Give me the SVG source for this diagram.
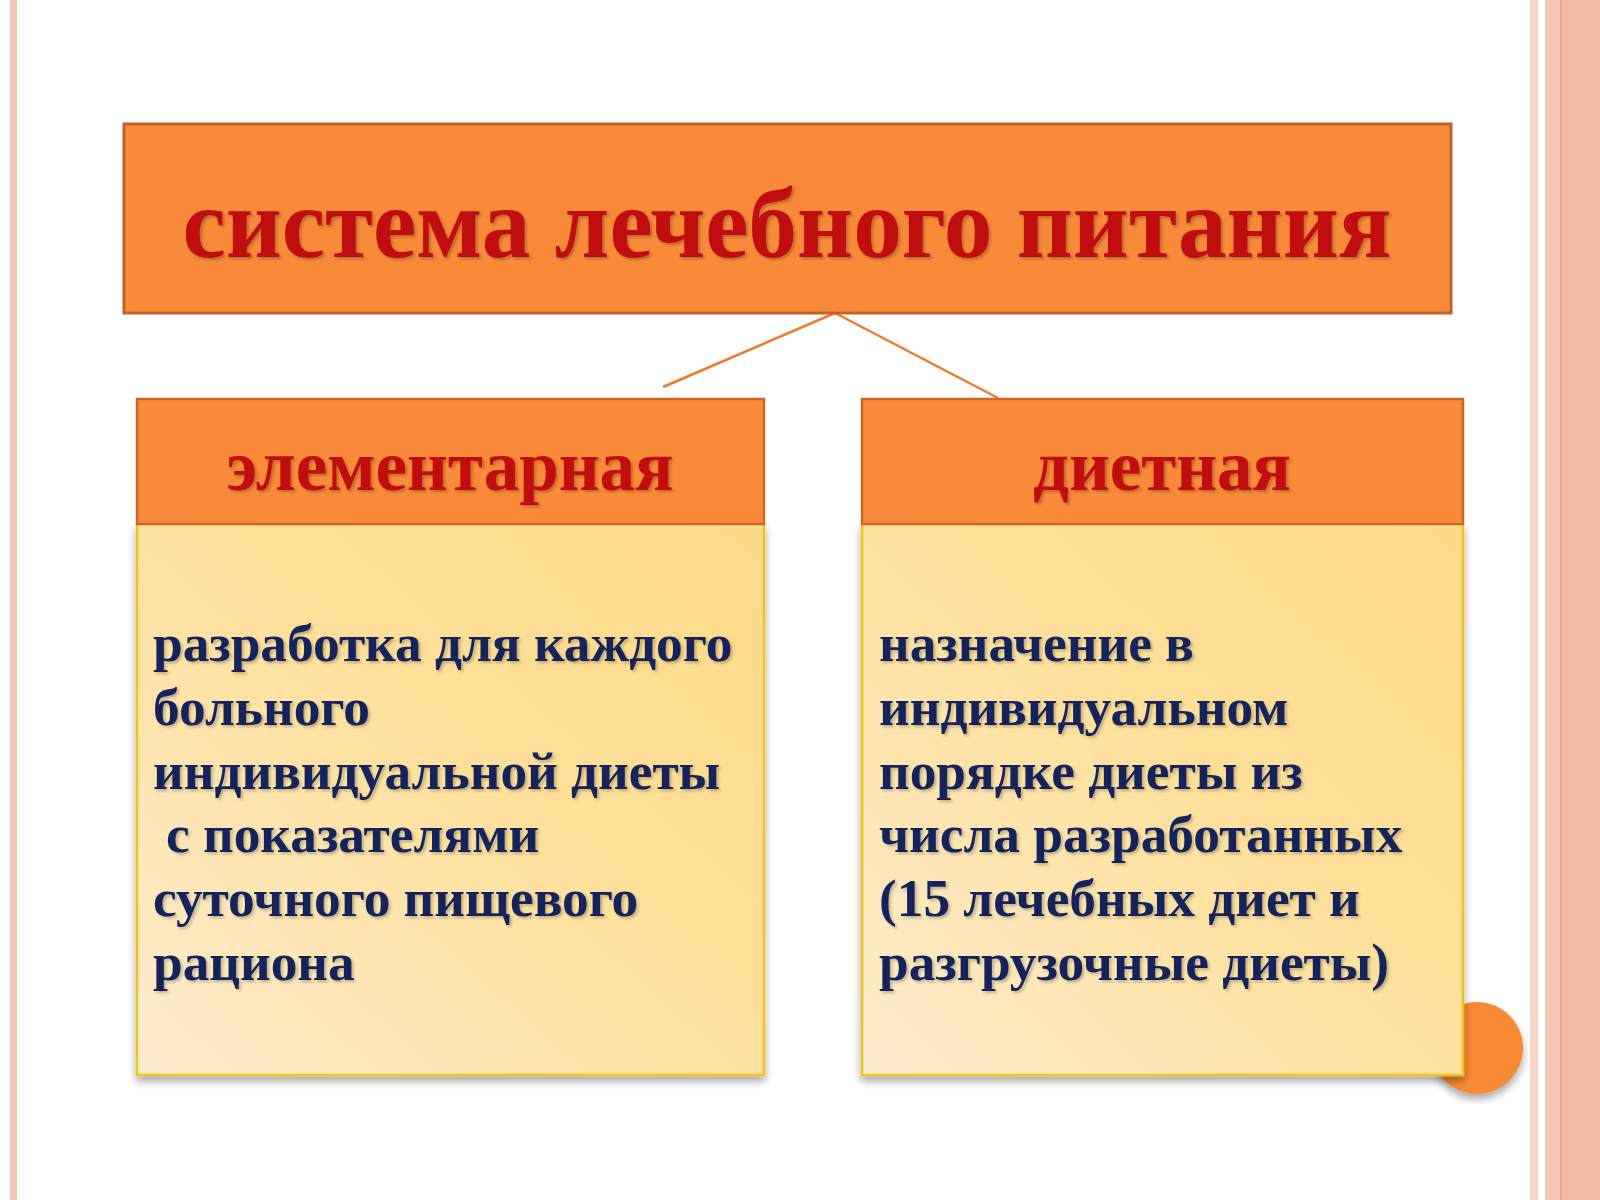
<svg xmlns="http://www.w3.org/2000/svg" width="1600" height="1200" viewBox="0 0 1600 1200">
<defs>
<style>
.hdr{fill:#fb8a3a;stroke:#c8692c;stroke-width:2.5}
.body{fill:url(#cream);stroke:#f2c21e;stroke-width:2.5}
.ttl{font-family:"Liberation Serif","Times New Roman",serif;font-weight:bold;fill:#c00a0a;text-anchor:middle}
.txt{font-family:"Liberation Serif","Times New Roman",serif;font-weight:bold;font-size:53.3px;fill:#16235a}
.conn{stroke:#ef7a2e;stroke-width:2.5;fill:none}
</style>
<linearGradient id="cream" x1="0" y1="1" x2="1" y2="0">
<stop offset="0" stop-color="#fdecce"/>
<stop offset="0.55" stop-color="#fee09a"/>
<stop offset="1" stop-color="#fdda88"/>
</linearGradient>
<filter id="sh" x="-5%" y="-5%" width="110%" height="115%">
<feGaussianBlur in="SourceAlpha" stdDeviation="4"/>
<feOffset dx="0" dy="5" result="b"/>
<feComponentTransfer><feFuncA type="linear" slope="0.35"/></feComponentTransfer>
<feMerge><feMergeNode/><feMergeNode in="SourceGraphic"/></feMerge>
</filter>
<filter id="tsh" x="-5%" y="-20%" width="110%" height="140%">
<feGaussianBlur in="SourceAlpha" stdDeviation="1.5"/>
<feOffset dx="2" dy="2" result="b"/>
<feComponentTransfer><feFuncA type="linear" slope="0.25"/></feComponentTransfer>
<feMerge><feMergeNode/><feMergeNode in="SourceGraphic"/></feMerge>
</filter>
</defs>
<rect width="1600" height="1200" fill="#ffffff"/>
<!-- side stripes -->
<rect x="10" y="0" width="7" height="1200" fill="#f6c9b6"/>
<rect x="1530" y="0" width="8" height="1200" fill="#f8d4c6"/>
<rect x="1545" y="0" width="15" height="1200" fill="#f4c6b4"/>
<rect x="1560" y="0" width="2" height="1200" fill="#e8a88c"/>
<rect x="1562" y="0" width="38" height="1200" fill="#f2bca4"/>
<!-- decorative circle -->
<circle cx="1477" cy="1048" r="46" fill="#f98a36" filter="url(#sh)"/>
<g id="connectors">
<line class="conn" x1="835" y1="313" x2="663" y2="387"/>
<line class="conn" x1="835" y1="313" x2="998" y2="398"/>
</g>
<g id="title">
<rect x="124" y="124" width="1327" height="189" fill="#f98a3a" stroke="#c0632a" stroke-width="3"/>
<text class="ttl" x="787" y="257" font-size="100" textLength="1209" lengthAdjust="spacingAndGlyphs" filter="url(#tsh)">система лечебного питания</text>
</g>
<g id="elementary">
<rect class="body" x="137" y="524" width="627" height="551" filter="url(#sh)"/>
<rect class="hdr" x="137" y="399" width="627" height="125"/>
<text class="ttl" x="450" y="490" font-size="71" filter="url(#tsh)">элементарная</text>
<g class="txt" filter="url(#tsh)">
<text x="153" y="661">разработка для каждого</text>
<text x="153" y="725">больного</text>
<text x="153" y="789">индивидуальной диеты</text>
<text x="166" y="852">с показателями</text>
<text x="153" y="916">суточного пищевого</text>
<text x="153" y="980">рациона</text>
</g>
</g>
<g id="dietary">
<rect class="body" x="862" y="524" width="601" height="551" filter="url(#sh)"/>
<rect class="hdr" x="862" y="399" width="601" height="125"/>
<text class="ttl" x="1162" y="490" font-size="71" filter="url(#tsh)">диетная</text>
<g class="txt" filter="url(#tsh)">
<text x="879" y="661">назначение в</text>
<text x="879" y="725">индивидуальном</text>
<text x="879" y="789">порядке диеты из</text>
<text x="879" y="852">числа разработанных</text>
<text x="879" y="916">(15 лечебных диет и</text>
<text x="879" y="980">разгрузочные диеты)</text>
</g>
</g>
</svg>
